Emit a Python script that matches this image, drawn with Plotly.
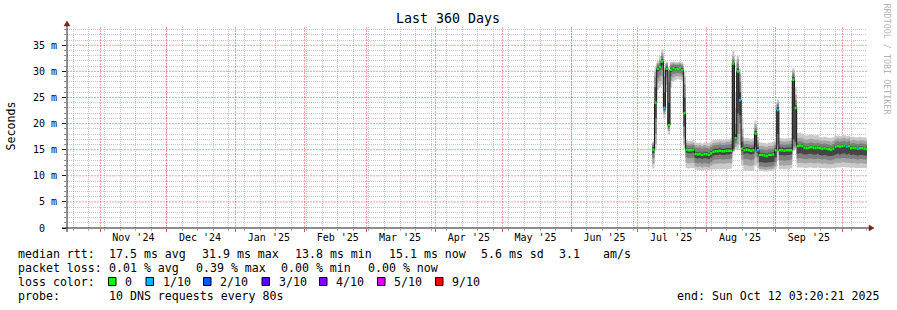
import plotly.graph_objects as go
import pandas as pd

# ---------------- data (ms) ----------------
T_START = "2024-10-17 03:20:21"
T_END = "2025-10-12 03:20:21"
DATA_START = "2025-07-07 12:00"   # first daily step

median = [15.0, 24.0, 30.5, 30.8, 31.9, 23.0, 30.5, 19.7, 30.3, 30.6,
          30.4, 30.5, 30.6, 30.2, 22.0, 15.0, 14.9, 14.9, 15.0, 14.2,
          14.1, 14.2, 14.0, 14.2, 14.1, 14.0, 14.3, 14.6, 14.7, 14.7,
          14.8, 14.7, 14.7, 14.8, 14.8, 14.8, 31.5, 17.2, 30.0, 24.5,
          15.2, 14.9, 15.0, 14.9, 14.8, 14.9, 18.1, 14.9, 14.0, 14.0,
          13.9, 13.8, 14.0, 14.0, 14.1, 14.9, 22.6, 14.9, 14.9, 14.8,
          14.9, 14.9, 14.9, 28.4, 23.0, 15.7, 15.8, 15.7, 15.4, 15.3,
          15.4, 15.5, 15.4, 15.3, 15.4, 15.3, 15.2, 15.3, 15.2, 15.1,
          15.0, 15.2, 15.6, 15.7, 15.6, 15.7, 15.8, 15.6, 15.7, 15.3,
          15.4, 15.3, 15.2, 15.3, 15.3, 15.2, 15.1]

loss = [0, 0, 0, 0, 0, 1, 0, 0, 0, 0,
        0, 0, 0, 0, 0, 0, 0, 0, 0, 0,
        0, 0, 0, 0, 0, 0, 0, 0, 0, 0,
        0, 0, 0, 0, 0, 0, 0, 0, 0, 1,
        0, 0, 0, 0, 0, 0, 0, 1, 0, 0,
        0, 0, 0, 0, 0, 0, 1, 0, 0, 0,
        0, 0, 0, 0, 0, 0, 0, 0, 0, 0,
        0, 0, 0, 0, 0, 0, 0, 0, 0, 0,
        0, 0, 0, 0, 0, 0, 0, 1, 0, 0,
        0, 0, 1, 0, 0, 0, 0]

lo1 = [11.4, 14.8, 26.5, 27.0, 27.5, 21.0, 26.0, 18.0, 27.0, 28.0,
       28.3, 28.5, 28.4, 28.2, 15.2, 11.5, 11.4, 11.5, 11.5, 11.2,
       11.1, 11.1, 11.0, 11.1, 11.0, 11.0, 11.2, 11.2, 11.2, 11.3,
       11.2, 11.2, 11.3, 11.2, 11.3, 11.4, 14.5, 15.0, 15.0, 16.0,
       12.0, 11.0, 11.0, 10.9, 10.9, 11.0, 12.0, 11.5, 10.9, 10.9,
       10.8, 10.8, 10.9, 10.9, 11.0, 11.2, 13.0, 11.3, 11.3, 11.2,
       11.3, 11.3, 11.4, 14.8, 15.0, 11.6, 11.6, 11.6, 11.5, 11.5,
       11.6, 11.6, 11.5, 11.5, 11.6, 11.5, 11.5, 11.5, 11.4, 11.4,
       11.4, 11.5, 11.6, 11.6, 11.6, 11.7, 11.7, 11.6, 11.6, 11.5,
       11.6, 11.5, 11.5, 11.5, 11.5, 11.5, 11.4]

lo2 = [12.3, 16.0, 27.8, 28.2, 29.0, 21.8, 27.5, 18.6, 28.2, 28.8,
       29.0, 29.1, 29.0, 28.9, 16.0, 12.5, 12.4, 12.5, 12.5, 11.8,
       11.7, 11.8, 11.6, 11.8, 11.7, 11.6, 11.9, 12.2, 12.3, 12.3,
       12.4, 12.3, 12.3, 12.4, 12.4, 12.4, 14.7, 15.5, 16.0, 18.0,
       13.0, 12.0, 12.0, 11.9, 11.9, 12.0, 13.5, 12.5, 11.3, 11.3,
       11.2, 11.2, 11.3, 11.3, 11.4, 11.8, 14.5, 12.0, 12.0, 11.9,
       12.0, 12.0, 12.1, 15.0, 15.3, 12.5, 12.5, 12.5, 12.4, 12.4,
       12.5, 12.5, 12.4, 12.4, 12.5, 12.4, 12.3, 12.4, 12.3, 12.2,
       12.2, 12.3, 12.5, 12.5, 12.5, 12.6, 12.6, 12.5, 12.5, 12.4,
       12.5, 12.4, 12.3, 12.4, 12.4, 12.3, 12.3]

lo3 = [13.4, 18.0, 28.8, 29.2, 30.2, 22.3, 28.8, 19.0, 29.0, 29.5,
       29.6, 29.7, 29.6, 29.4, 17.5, 13.5, 13.4, 13.4, 13.5, 12.5,
       12.4, 12.5, 12.3, 12.5, 12.4, 12.3, 12.6, 13.0, 13.1, 13.1,
       13.2, 13.1, 13.1, 13.2, 13.2, 13.3, 14.9, 16.2, 18.0, 20.0,
       14.0, 13.2, 13.2, 13.1, 13.0, 13.1, 14.6, 13.5, 11.8, 11.8,
       11.7, 11.7, 11.8, 11.8, 11.9, 12.6, 16.0, 13.0, 13.0, 12.9,
       13.0, 13.0, 13.1, 15.5, 15.8, 13.3, 13.4, 13.3, 13.2, 13.2,
       13.3, 13.3, 13.2, 13.2, 13.3, 13.2, 13.1, 13.2, 13.1, 13.0,
       13.0, 13.1, 13.3, 13.3, 13.3, 13.4, 13.4, 13.3, 13.3, 13.2,
       13.3, 13.2, 13.1, 13.2, 13.2, 13.1, 13.1]

lo4 = [14.3, 21.0, 30.0, 30.3, 31.2, 22.7, 30.0, 19.4, 29.9, 30.2,
       30.1, 30.2, 30.3, 29.9, 19.5, 14.4, 14.3, 14.3, 14.4, 13.4,
       13.3, 13.4, 13.2, 13.4, 13.3, 13.2, 13.5, 13.9, 14.0, 14.0,
       14.1, 14.0, 14.0, 14.1, 14.1, 14.2, 15.2, 16.8, 22.0, 21.6,
       14.8, 14.2, 14.3, 14.2, 14.1, 14.2, 15.5, 14.3, 12.6, 12.6,
       12.5, 12.5, 12.6, 12.6, 12.7, 13.5, 18.0, 14.0, 14.0, 13.9,
       14.0, 14.0, 14.1, 17.0, 16.5, 14.2, 14.3, 14.2, 14.1, 14.1,
       14.2, 14.2, 14.1, 14.1, 14.2, 14.0, 13.9, 14.0, 13.9, 13.8,
       13.8, 13.9, 14.1, 14.2, 14.1, 14.2, 14.3, 14.1, 14.2, 14.0,
       14.1, 14.0, 13.9, 14.0, 14.0, 13.9, 13.9]

hi4 = [15.5, 27.0, 30.9, 31.1, 32.3, 26.0, 30.9, 24.0, 30.7, 30.9,
       30.8, 30.8, 30.9, 30.6, 25.0, 15.3, 15.2, 15.2, 15.3, 14.6,
       14.5, 14.6, 14.4, 14.6, 14.5, 14.4, 14.7, 15.1, 15.2, 15.2,
       15.3, 15.2, 15.2, 15.3, 15.3, 15.3, 31.8, 18.0, 30.6, 26.0,
       16.5, 15.4, 15.5, 15.4, 15.3, 15.4, 18.6, 15.5, 14.4, 14.4,
       14.3, 14.2, 14.4, 14.4, 14.5, 15.3, 23.2, 15.4, 15.4, 15.3,
       15.4, 15.4, 15.4, 29.0, 23.5, 16.0, 16.1, 16.0, 15.7, 15.6,
       15.7, 15.8, 15.7, 15.6, 15.7, 15.6, 15.5, 15.6, 15.5, 15.4,
       15.3, 15.5, 15.9, 16.0, 15.9, 16.0, 16.1, 15.9, 16.0, 15.6,
       15.7, 15.6, 15.5, 15.6, 15.6, 15.5, 15.4]

hi3 = [16.0, 29.0, 31.3, 31.6, 33.0, 29.0, 31.3, 28.0, 31.2, 31.3,
       31.2, 31.2, 31.3, 31.1, 27.5, 15.9, 15.8, 15.8, 15.9, 15.4,
       15.3, 15.4, 15.2, 15.4, 15.3, 15.2, 15.5, 15.8, 15.9, 15.9,
       16.0, 15.9, 15.9, 16.0, 16.0, 16.1, 32.3, 20.0, 31.5, 28.0,
       17.5, 16.0, 16.1, 16.0, 15.9, 16.0, 19.2, 16.2, 15.1, 15.1,
       15.0, 14.9, 15.1, 15.1, 15.2, 15.9, 23.7, 16.0, 16.0, 15.9,
       16.0, 16.0, 16.1, 29.6, 24.5, 16.5, 16.6, 16.5, 16.3, 16.2,
       16.3, 16.4, 16.3, 16.2, 16.3, 16.2, 16.1, 16.2, 16.1, 16.0,
       15.9, 16.1, 16.5, 16.6, 16.5, 16.6, 16.7, 16.5, 16.6, 16.2,
       16.3, 16.2, 16.1, 16.2, 16.2, 16.1, 16.0]

hi2 = [16.3, 30.0, 31.6, 32.2, 33.5, 30.2, 31.6, 30.0, 31.5, 31.6,
       31.5, 31.5, 31.6, 31.4, 29.0, 16.3, 16.2, 16.2, 16.3, 15.9,
       15.8, 15.9, 15.7, 15.9, 15.8, 15.7, 16.0, 16.3, 16.4, 16.4,
       16.5, 16.4, 16.4, 16.5, 16.5, 16.6, 33.0, 23.0, 32.3, 29.5,
       19.0, 16.6, 16.7, 16.6, 16.5, 16.6, 19.9, 16.8, 15.7, 15.7,
       15.6, 15.5, 15.7, 15.7, 15.8, 16.4, 24.1, 16.6, 16.6, 16.5,
       16.6, 16.6, 16.7, 30.1, 25.5, 17.2, 17.3, 17.2, 17.0, 16.9,
       17.0, 17.1, 17.0, 16.9, 17.0, 16.8, 16.7, 16.8, 16.7, 16.6,
       16.5, 16.7, 17.1, 17.2, 17.1, 17.2, 17.3, 17.1, 17.2, 16.8,
       16.9, 16.8, 16.7, 16.8, 16.8, 16.7, 16.6]

hi1 = [16.6, 30.8, 32.0, 33.0, 34.2, 30.8, 31.9, 30.8, 31.8, 31.9,
       31.8, 31.8, 31.9, 31.7, 30.0, 16.8, 16.7, 16.7, 16.8, 16.4,
       16.3, 16.4, 16.2, 16.4, 16.3, 16.3, 16.5, 16.9, 16.9, 17.0,
       17.0, 16.9, 16.9, 17.0, 17.0, 17.2, 34.0, 26.0, 33.0, 30.5,
       21.0, 17.2, 17.3, 17.2, 17.1, 17.2, 20.6, 17.5, 16.4, 16.4,
       16.3, 16.2, 16.4, 16.4, 16.5, 17.0, 24.6, 17.2, 17.2, 17.1,
       17.2, 17.2, 17.3, 30.6, 27.0, 18.2, 18.3, 18.1, 17.8, 17.7,
       17.8, 17.9, 17.8, 17.7, 17.8, 17.5, 17.4, 17.5, 17.4, 17.3,
       17.3, 17.4, 17.6, 17.7, 17.6, 17.7, 17.8, 17.6, 17.7, 17.5,
       17.5, 17.4, 17.4, 17.5, 17.4, 17.4, 17.3]

month_starts = ["2024-11-01", "2024-12-01", "2025-01-01", "2025-02-01", "2025-03-01",
                "2025-04-01", "2025-05-01", "2025-06-01", "2025-07-01", "2025-08-01",
                "2025-09-01", "2025-10-01"]
month_label_pos = ["2024-11-16", "2024-12-16", "2025-01-16", "2025-02-16", "2025-03-16",
                   "2025-04-16", "2025-05-16", "2025-06-16", "2025-07-16", "2025-08-16",
                   "2025-09-16"]
month_labels = ["Nov '24", "Dec '24", "Jan '25", "Feb '25", "Mar '25", "Apr '25",
                "May '25", "Jun '25", "Jul '25", "Aug '25", "Sep '25"]
y_ticks = [0, 5, 10, 15, 20, 25, 30, 35]
y_minor = [1, 2, 3, 4, 6, 7, 8, 9, 11, 12, 13, 14, 16, 17, 18, 19,
           21, 22, 23, 24, 26, 27, 28, 29, 31, 32, 33, 34, 36, 37, 38]
y_labels = ["0\u00a0\u00a0", "5 m", "10 m", "15 m", "20 m", "25 m", "30 m", "35 m"]

loss_colors = ["#00ff00", "#00b8ff", "#0059ff", "#5e00ff", "#7e00ff", "#dd00ff", "#ff0000"]
loss_names = ["0", "1/10", "2/10", "3/10", "4/10", "5/10", "9/10"]
loss_levels = [0, 1, 2, 3, 4, 5, 9]

# ---------------- geometry ----------------
W, H = 897, 310
ML, MR, MT, MB = 67, 30, 27, 82
PW, PH = W - ML - MR, H - MT - MB
FONT = "DejaVu Sans Mono"
RED_GRID = "rgba(235,70,70,0.5)"
GRAY_GRID = "rgba(143,143,143,0.5)"


def px(x):
    return (x - ML) / PW


def py(y):
    return (H - MB - y) / PH


n = len(median)
edges = pd.date_range(DATA_START, periods=n + 1, freq="D")
xs = list(edges)


def step(vals):
    return list(vals) + [vals[-1]]


fig = go.Figure()

# major horizontal grid (every 5 ms) drawn from the y tick values
hx, hy = [], []
for v in y_ticks[1:]:
    hx += [T_START, T_END, None]
    hy += [v, v, None]
fig.add_trace(go.Scatter(x=hx, y=hy, mode="lines",
                         line=dict(color=RED_GRID, width=1, dash="2px,1px"),
                         hoverinfo="skip", showlegend=False))

bands = [(lo1, hi1, "#cacaca"), (lo2, hi2, "#a4a4a4"), (lo3, hi3, "#7e7e7e"), (lo4, hi4, "#454545")]
for lo, hi, col in bands:
    fig.add_trace(go.Scatter(x=xs, y=step(lo), mode="lines", line=dict(width=0, shape="hv"),
                             hoverinfo="skip", showlegend=False))
    fig.add_trace(go.Scatter(x=xs, y=step(hi), mode="lines", line=dict(width=0, shape="hv"),
                             fill="tonexty", fillcolor=col, hoverinfo="skip", showlegend=False))

# dark median connector
fig.add_trace(go.Scatter(x=xs, y=step(median), mode="lines",
                         line=dict(color="#1a1a1a", width=1, shape="hv"),
                         hoverinfo="skip", showlegend=False))

# median coloured by loss
for lvl, col in zip(loss_levels, loss_colors):
    sx, sy = [], []
    for i in range(n):
        if loss[i] == lvl:
            sx += [edges[i], edges[i + 1], None]
            sy += [median[i], median[i], None]
    if sx:
        fig.add_trace(go.Scatter(x=sx, y=sy, mode="lines", line=dict(color=col, width=2.5),
                                 hoverinfo="skip", showlegend=False))

# invisible trace for the label axis
fig.add_trace(go.Scatter(x=[T_START, T_END], y=[0, 0], xaxis="x2", mode="lines",
                         line=dict(width=0), hoverinfo="skip", showlegend=False))

fig.update_layout(
    width=W, height=H, autosize=False,
    margin=dict(l=ML, r=MR, t=MT, b=MB, pad=0),
    paper_bgcolor="white", plot_bgcolor="white",
    font=dict(family=FONT, size=10, color="#000000"),
    xaxis=dict(type="date", range=[T_START, T_END], tickmode="array", tickvals=month_starts,
               showticklabels=False, showgrid=True, gridcolor=RED_GRID, griddash="2px,1px",
               gridwidth=1, ticks="outside", ticklen=3, tickcolor="#de4f4f",
               showline=False, zeroline=False,
               minor=dict(dtick=7 * 86400000, tick0="2024-10-20", showgrid=True,
                          gridcolor=GRAY_GRID, griddash="1px,1px", ticks="outside",
                          ticklen=2, tickcolor="#b0b0b0")),
    xaxis2=dict(type="date", range=[T_START, T_END], overlaying="x", anchor="y", side="bottom",
                tickmode="array", tickvals=month_label_pos, ticktext=month_labels,
                showgrid=False, ticks="", showline=False, zeroline=False,
                tickfont=dict(family=FONT, size=10, color="#000000"), ticklabelstandoff=2),
    yaxis=dict(range=[0, 38.5], tickmode="array", tickvals=y_ticks, ticktext=y_labels,
               showgrid=False, ticks="outside",
               ticklen=4, tickcolor="#1f1f1f", zeroline=False, showline=False,
               tickfont=dict(family=FONT, size=10, color="#000000"), ticklabelstandoff=3,
               minor=dict(tickmode="array", tickvals=y_minor, showgrid=True,
                          gridcolor=GRAY_GRID, griddash="1px,1px",
                          ticks="outside", ticklen=2, tickcolor="#909090")),
)

shapes = []
# axes lines
shapes.append(dict(type="line", xref="paper", yref="paper", x0=px(62), x1=px(869),
                   y0=py(228), y1=py(228), line=dict(color="#1f1f1f", width=1)))
shapes.append(dict(type="line", xref="paper", yref="paper", x0=px(67), x1=px(67),
                   y0=py(232), y1=py(25), line=dict(color="#1f1f1f", width=1)))
# arrows
shapes.append(dict(type="path", xref="paper", yref="paper",
                   path=f"M {px(869)} {py(225)} L {px(874)} {py(228)} L {px(869)} {py(231)} Z",
                   fillcolor="#801f1f", line=dict(color="#801f1f", width=0.5)))
shapes.append(dict(type="path", xref="paper", yref="paper",
                   path=f"M {px(64)} {py(26)} L {px(67)} {py(21)} L {px(70)} {py(26)} Z",
                   fillcolor="#801f1f", line=dict(color="#801f1f", width=0.5)))

ann = []


def text(x, y, s, size=11.6, anchor="left", color="#000000", angle=0):
    ann.append(dict(xref="paper", yref="paper", x=px(x), y=py(y), text=s, showarrow=False,
                    xanchor=anchor, yanchor="middle", textangle=angle,
                    font=dict(family=FONT, size=size, color=color)))


text(448, 19, "Last 360 Days", size=13.3, anchor="center")
text(10.5, 126, "Seconds", size=11.6, anchor="center", angle=-90)
text(886.5, 59, "RRDTOOL / TOBI OETIKER", size=8.4, anchor="center", color="#b4b4b4", angle=90)

ly = [254, 268, 282, 296]
text(16, ly[0], "median rtt:")
for xx, s in [(107.3, "17.5 ms avg"), (200, "31.9 ms max"), (293.3, "13.8 ms min"),
              (386.7, "15.1 ms now"), (479.3, "5.6 ms sd"), (557.3, "3.1"), (600.7, "am/s")]:
    text(xx, ly[0], s)
text(16, ly[1], "packet loss:")
for xx, s in [(107.3, "0.01 % avg"), (194.3, "0.39 % max"), (279.3, "0.00 % min"),
              (365.7, "0.00 % now")]:
    text(xx, ly[1], s)
text(16, ly[2], "loss color:")
box_x = [108.5, 146, 203.5, 262, 319.5, 377.5, 435.5]
for bx, col, name in zip(box_x, loss_colors, loss_names):
    shapes.append(dict(type="rect", xref="paper", yref="paper", x0=px(bx), x1=px(bx + 7.5),
                       y0=py(285.5), y1=py(277.5), fillcolor=col,
                       line=dict(color="#000000", width=1)))
    text(bx + 14.8, ly[2], name)
text(16, ly[3], "probe:")
text(107.3, ly[3], "10 DNS requests every 80s")
text(881, ly[3], "end: Sun Oct 12 03:20:21 2025", anchor="right")

fig.update_layout(shapes=shapes, annotations=ann)
fig.write_html("out.html")
